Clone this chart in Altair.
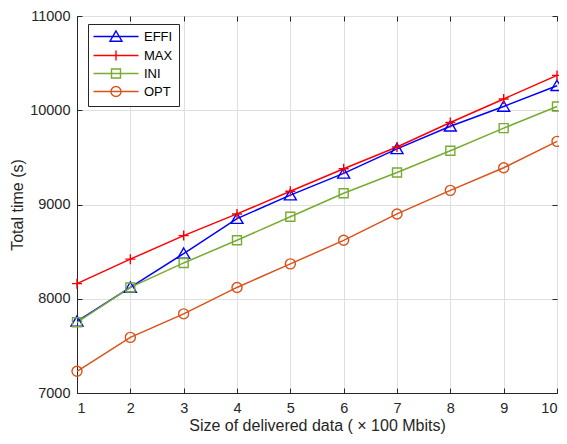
import altair as alt
import pandas as pd

x_vals = [1, 2, 3, 4, 5, 6, 7, 8, 9, 10]
y_ticks = [7000, 8000, 9000, 10000, 11000]
series_names = ["EFFI", "MAX", "INI", "OPT"]
effi = [7760, 8120, 8480, 8850, 9100, 9330, 9590, 9830, 10040, 10260]
max_vals = [8160, 8420, 8670, 8900, 9140, 9380, 9610, 9870, 10120, 10370]
ini = [7750, 8120, 8380, 8620, 8870, 9120, 9340, 9570, 9810, 10040]
opt = [7230, 7590, 7840, 8120, 8370, 8620, 8900, 9150, 9390, 9670]

colors = ["#0000FF", "#FF0000", "#77AC30", "#D95319"]
marker_paths = [
    "M0,-1.1L1.2,0.95L-1.2,0.95Z",
    "M-1,0H1M0,-1V1",
    "M-0.9,-0.9H0.9V0.9H-0.9Z",
    "M1,0A1,1,0,1,1,-1,0A1,1,0,1,1,1,0Z",
]
legend_paths = [
    "M-1.4,0H7.6M3.1,-1.1L4.3,0.95L1.9,0.95Z",
    "M-1.4,0H7.6M3.1,-1V1",
    "M-1.4,0H7.6M2.2,-0.9H4V0.9H2.2Z",
    "M-1.4,0H7.6M4.1,0A1,1,0,1,1,2.1,0A1,1,0,1,1,4.1,0Z",
]

rows = []
for name, vals in zip(series_names, [effi, max_vals, ini, opt]):
    for xv, yv in zip(x_vals, vals):
        rows.append({"x": xv, "y": yv, "series": name})
df = pd.DataFrame(rows)

shape_expr = ""
for name, p in zip(series_names, legend_paths):
    shape_expr += f"datum.value === '{name}' ? '{p}' : "
shape_expr += "'circle'"

PW, PH = 480, 377

legend = alt.Legend(
    title=None,
    orient="none",
    legendX=11,
    legendY=8,
    strokeColor="#262626",
    fillColor="white",
    padding=6,
    labelFontSize=13,
    labelColor="#000000",
    labelFont="Liberation Sans",
    labelOffset=37,
    rowPadding=2,
    symbolSize=100,
    symbolStrokeWidth=1.4,
    symbolFillColor="transparent",
    symbolOpacity=1,
    symbolType=alt.ExprRef(expr=shape_expr),
)

color_scale = alt.Scale(domain=series_names, range=colors)
x_scale = alt.Scale(domain=[1, 10], nice=False)
y_scale = alt.Scale(domain=[7000, 11000], nice=False)

x_main = alt.X(
    "x:Q",
    scale=x_scale,
    axis=alt.Axis(
        values=x_vals,
        title="Size of delivered data ( × 100 Mbits)",
        format="d",
        grid=True,
        ticks=False,
        labelPadding=8,
        titlePadding=3,
    ),
)
y_main = alt.Y(
    "y:Q",
    scale=y_scale,
    axis=alt.Axis(
        values=y_ticks,
        title="Total time (s)",
        format="d",
        grid=True,
        ticks=False,
        labelPadding=7,
        titlePadding=4,
    ),
)

x_none = alt.X("x:Q", scale=x_scale, axis=None)
y_none = alt.Y("y:Q", scale=y_scale, axis=None)


def tick_axis(orient, offset, values):
    return alt.Axis(
        orient=orient,
        offset=offset,
        values=values,
        labels=False,
        domain=False,
        grid=False,
        ticks=True,
        tickSize=5,
        tickColor="#262626",
        tickWidth=1,
        title=None,
    )


lines = alt.Chart(df).mark_line(strokeWidth=1.5).encode(
    x=x_main,
    y=y_main,
    color=alt.Color("series:N", scale=color_scale, legend=legend),
    detail="series:N",
)

point_layers = []
for name, col, path in zip(series_names, colors, marker_paths):
    point_layers.append(
        alt.Chart(df)
        .transform_filter(alt.datum.series == name)
        .mark_point(size=100, filled=False, strokeWidth=1.4, opacity=1, shape=path, color=col)
        .encode(x=x_none, y=y_none)
    )

ticks_a = alt.Chart(df).mark_point(opacity=0).encode(
    x=alt.X("x:Q", scale=x_scale, axis=tick_axis("top", -PH, x_vals)),
    y=alt.Y("y:Q", scale=y_scale, axis=tick_axis("right", -PW, y_ticks)),
)
ticks_b = alt.Chart(df).mark_point(opacity=0).encode(
    x=alt.X("x:Q", scale=x_scale, axis=tick_axis("bottom", -PH, x_vals)),
    y=alt.Y("y:Q", scale=y_scale, axis=tick_axis("left", -PW, y_ticks)),
)

chart = (
    alt.layer(lines, *point_layers, ticks_a, ticks_b)
    .resolve_axis(x="independent", y="independent")
    .properties(
        width=PW,
        height=PH,
        autosize=alt.AutoSizeParams(type="none"),
        padding={"left": 69, "top": 8, "right": 2, "bottom": 43},
        background="white",
    )
    .configure_view(stroke="#262626", strokeWidth=1)
    .configure_axis(
        labelFont="Liberation Sans",
        titleFont="Liberation Sans",
        labelFontSize=14.5,
        titleFontSize=16,
        labelColor="#262626",
        titleColor="#262626",
        titleFontWeight="normal",
        domainColor="#262626",
        gridColor="#DFDFDF",
        gridWidth=1,
    )
)

chart.save("out.html", embed_options={"renderer": "svg", "actions": False})
